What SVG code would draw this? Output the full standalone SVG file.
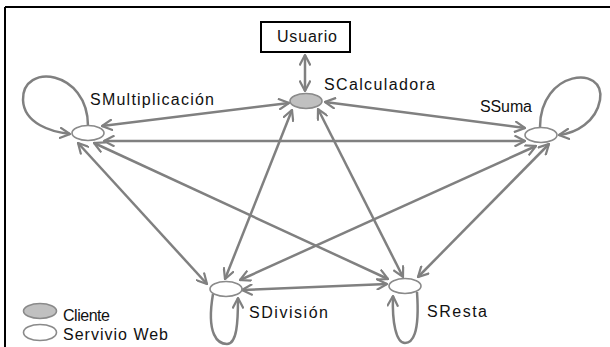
<svg xmlns="http://www.w3.org/2000/svg" width="610" height="347" viewBox="0 0 610 347">
<style>
.t{font-family:"Liberation Sans",Arial,sans-serif;font-size:16px;fill:#111}
.e{stroke:#808080;stroke-width:2.5;fill:none;marker-start:url(#ah);marker-end:url(#ah)}
.l{stroke:#808080;stroke-width:2.5;fill:none;marker-end:url(#ah)}
.n{fill:#fff;stroke:#8a8a8a;stroke-width:1.6}
.c{fill:#c0c0c0;stroke:#8a8a8a;stroke-width:1.6}
</style>
<defs>
<marker id="ah" viewBox="0 0 12 12" markerWidth="12" markerHeight="12" refX="11" refY="6" orient="auto-start-reverse" markerUnits="userSpaceOnUse">
<path d="M0.5,0.5 L11,6 L0.5,11.5" fill="none" stroke="#808080" stroke-width="2.2"/>
</marker>
</defs>
<rect width="610" height="347" fill="#fff"/>
<path d="M5,7 H610 M5,7 V347" stroke="#000" stroke-width="2" fill="none"/>
<g id="connectors">
<line class="e" x1="305" y1="55" x2="305" y2="91"/>
<line class="e" x1="102" y1="126" x2="289" y2="103"/>
<line class="e" x1="325" y1="102" x2="525" y2="128"/>
<line class="e" x1="104" y1="141" x2="525" y2="141"/>
<line class="e" x1="292" y1="110" x2="225" y2="279"/>
<line class="e" x1="318" y1="109" x2="403" y2="277"/>
<line class="e" x1="78" y1="143" x2="207" y2="284"/>
<line class="e" x1="94" y1="143" x2="388" y2="279"/>
<line class="e" x1="536" y1="146" x2="240" y2="280"/>
<line class="e" x1="549" y1="144" x2="418" y2="277"/>
<line class="e" x1="242" y1="290" x2="387" y2="284"/>
<path class="l" d="M88,126 C88,70 22,62 23,100 C24,124 52,132 70,134"/>
<path class="l" d="M540,127 C540,70 606,64 600,100 C596,122 576,133 559,135"/>
<path class="l" d="M213,294 C206,335 218,344 227,344 C237,344 238,322 238,298"/>
<path class="l" d="M417,292 C420,335 412,343 405,343 C396,343 392,322 393,296"/>
</g>
<g id="usuario">
<rect x="261" y="22" width="89" height="30" fill="#fff" stroke="#000" stroke-width="2"/>
<text class="t" x="277" y="42" textLength="60" lengthAdjust="spacing">Usuario</text>
</g>
<g id="scalculadora">
<ellipse class="c" cx="306" cy="101" rx="16" ry="7.5"/>
<text class="t" x="324" y="90" textLength="111" lengthAdjust="spacing">SCalculadora</text>
</g>
<g id="smultiplicacion">
<ellipse class="n" cx="88" cy="133" rx="16" ry="7.5"/>
<text class="t" x="90" y="105" textLength="124" lengthAdjust="spacing">SMultiplicación</text>
</g>
<g id="ssuma">
<ellipse class="n" cx="541" cy="135" rx="16" ry="7.5"/>
<text class="t" x="480" y="112" textLength="52" lengthAdjust="spacing">SSuma</text>
</g>
<g id="sdivision">
<ellipse class="n" cx="226" cy="289" rx="16" ry="7.5"/>
<text class="t" x="249" y="318" textLength="79" lengthAdjust="spacing">SDivisión</text>
</g>
<g id="sresta">
<ellipse class="n" cx="405" cy="286" rx="16" ry="7.5"/>
<text class="t" x="427" y="317" textLength="60" lengthAdjust="spacing">SResta</text>
</g>
<g id="legend">
<ellipse class="c" cx="40" cy="311" rx="16.5" ry="7.5"/>
<text class="t" x="63" y="321" textLength="47" lengthAdjust="spacing">Cliente</text>
<ellipse class="n" cx="40" cy="332.5" rx="16.5" ry="8"/>
<text class="t" x="63" y="340" textLength="105" lengthAdjust="spacing">Servivio Web</text>
</g>
</svg>
